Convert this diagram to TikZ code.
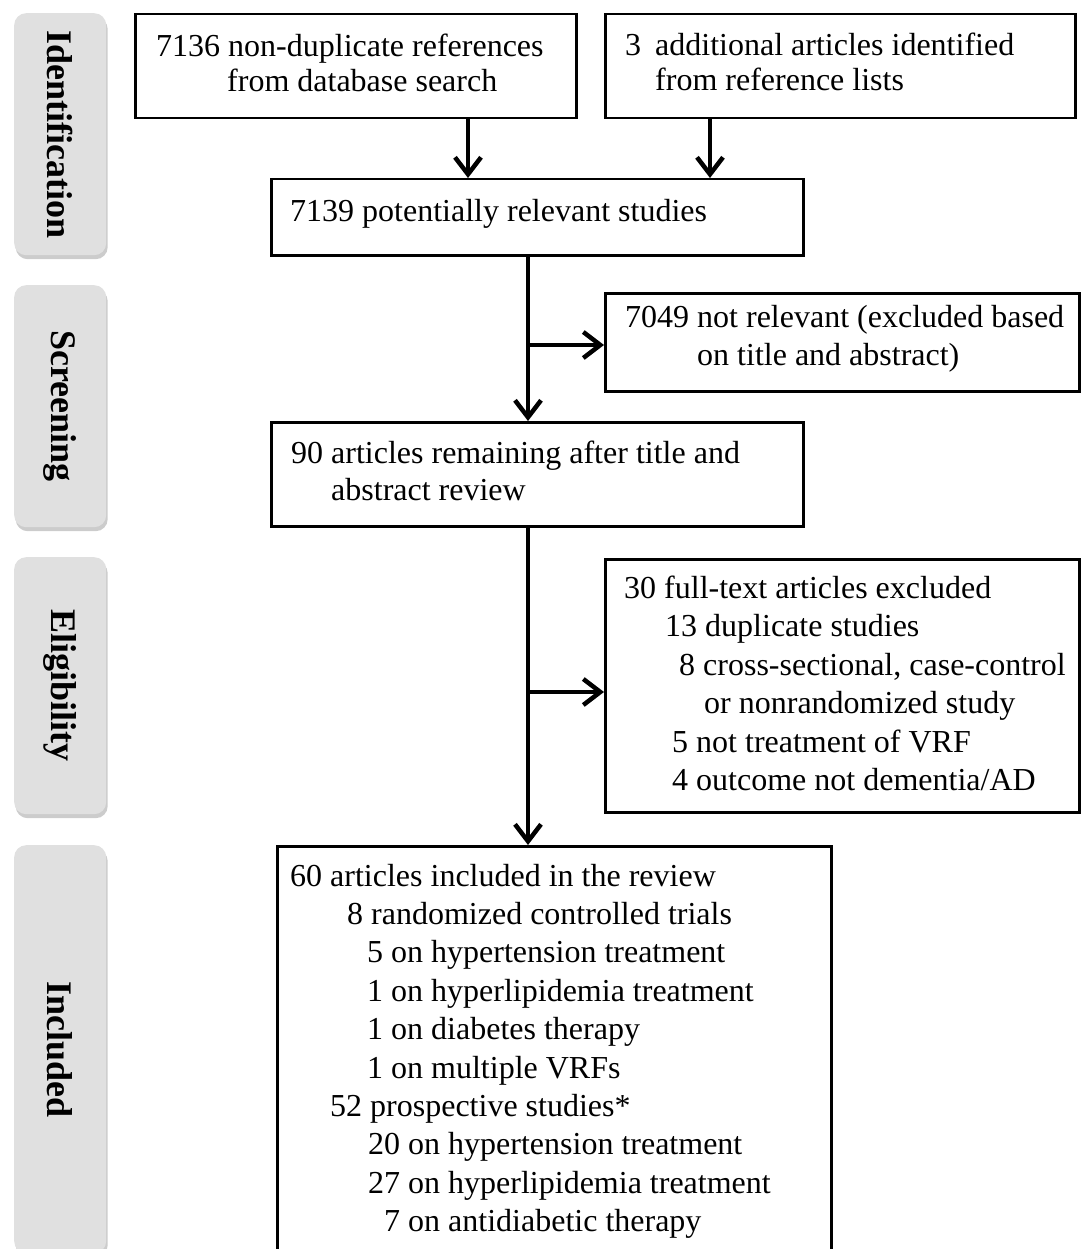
\documentclass[tikz,border=0pt]{standalone}
\usepackage{fontspec}
\setmainfont{Liberation Serif}
\usetikzlibrary{arrows.meta,shadows}
\definecolor{sidegray}{RGB}{224,224,224}
\begin{document}
\begin{tikzpicture}[x=1pt,y=-1pt,
  box/.style={draw=black, line width=2.5pt, inner sep=0pt, anchor=north west},
  txt/.style={anchor=base west, inner sep=0pt, font=\fontsize{32}{38.4}\selectfont},
  side/.style={fill=sidegray, rounded corners=12pt, anchor=north west, inner sep=0pt, minimum width=92pt,
    drop shadow={shadow xshift=1.5pt, shadow yshift=-4pt, fill=black, opacity=0.2}},
  sidetxt/.style={rotate=-90, font=\fontsize{36}{40}\selectfont\bfseries, inner sep=0pt},
  arr/.style={line width=3.5pt, -{Straight Barb[length=17pt,width=26pt,line width=4.5pt]}},
  ln/.style={line width=3.5pt}]
\useasboundingbox (0,0) rectangle (1082,1249);
\fill[white] (0,0) rectangle (1082,1249);

% side labels
\node[side, minimum height=242pt] (s1) at (14,13) {};
\node[sidetxt] (s1t) at (s1.center) {Identification};
\node[side, minimum height=242pt] (s2) at (14,285) {};
\node[sidetxt] (s2t) at (s2.center) {Screening};
\node[side, minimum height=257pt] (s3) at (14,557) {};
\node[sidetxt] (s3t) at (s3.center) {Eligibility};
\node[side, minimum height=408pt] (s4) at (14,845) {};
\node[sidetxt] (s4t) at (s4.center) {Included};

% boxes
\node[box, minimum width=441pt, minimum height=104pt] (A) at (134,13) {};
\node[txt] (a1) at (156,57) {7136 non-duplicate references};
\node[txt] (a2) at (227,92) {from database search};

\node[box, minimum width=470pt, minimum height=104pt] (B) at (604,13) {};
\node[txt] (b1) at (625,56) {3};
\node[txt] (b2) at (655,56) {additional articles identified};
\node[txt] (b3) at (655,91) {from reference lists};

\node[box, minimum width=532pt, minimum height=76pt] (C) at (270,178) {};
\node[txt] (c1) at (290,222) {7139 potentially relevant studies};

\node[box, minimum width=474pt, minimum height=98pt] (D) at (604,292) {};
\node[txt] (d1) at (625,327) {7049 not relevant (excluded based};
\node[txt] (d2) at (697,365) {on title and abstract)};

\node[box, minimum width=532pt, minimum height=104pt] (E) at (270,421) {};
\node[txt] (e1) at (291,463) {90 articles remaining after title and};
\node[txt] (e2) at (331,500) {abstract review};

\node[box, minimum width=474pt, minimum height=253pt] (F) at (604,558) {};
\node[txt] (f1) at (624,598) {30 full-text articles excluded};
\node[txt] (f2) at (665,636.5) {13 duplicate studies};
\node[txt] (f3) at (679,675) {8 cross-sectional, case-control};
\node[txt] (f4) at (704,713.5) {or nonrandomized study};
\node[txt] (f5) at (672,752) {5 not treatment of VRF};
\node[txt] (f6) at (672,790.5) {4 outcome not dementia/AD};

\node[box, minimum width=554pt, minimum height=420pt] (G) at (276,845) {};
\node[txt] (g1) at (290,886) {60 articles included in the review};
\node[txt] (g2) at (347,924.4) {8 randomized controlled trials};
\node[txt] (g3) at (367,962.8) {5 on hypertension treatment};
\node[txt] (g4) at (367,1001.2) {1 on hyperlipidemia treatment};
\node[txt] (g5) at (367,1039.6) {1 on diabetes therapy};
\node[txt] (g6) at (367,1078) {1 on multiple VRFs};
\node[txt] (g7) at (330,1116.4) {52 prospective studies*};
\node[txt] (g8) at (368,1154.8) {20 on hypertension treatment};
\node[txt] (g9) at (368,1193.2) {27 on hyperlipidemia treatment};
\node[txt] (g10) at (384,1231.6) {7 on antidiabetic therapy};

% connectors
\coordinate (xa) at (468,0);
\coordinate (xb) at (710,0);
\coordinate (xc) at (528,0);
\coordinate (br1) at (528,345);
\coordinate (br2) at (528,692);
\draw[arr] (xa |- A.south) -- (xa |- C.north);
\draw[arr] (xb |- B.south) -- (xb |- C.north);
\draw[arr] (xc |- C.south) -- (xc |- E.north);
\draw[arr] (br1) -- (br1 -| D.west);
\draw[arr] (xc |- E.south) -- (xc |- G.north);
\draw[arr] (br2) -- (br2 -| F.west);
\end{tikzpicture}
\end{document}
